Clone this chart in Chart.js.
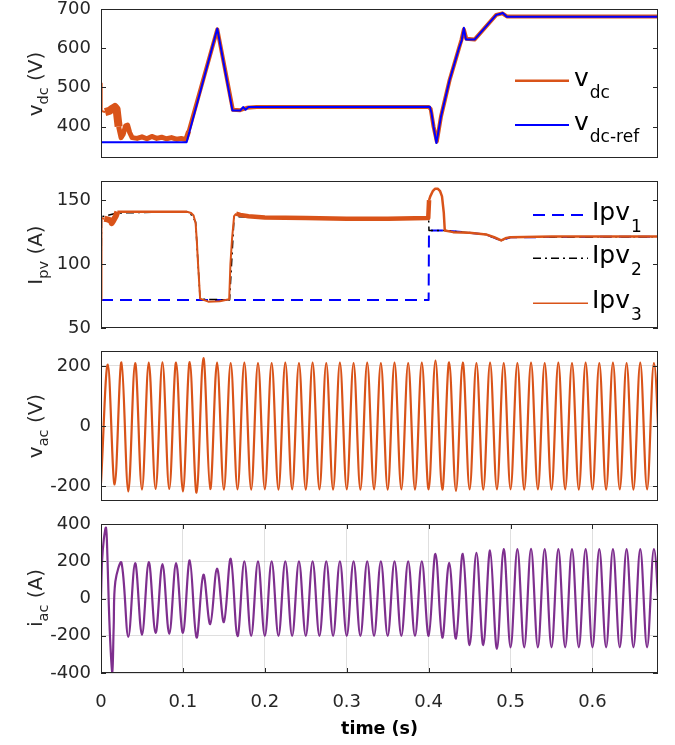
<!DOCTYPE html>
<html lang="en">
<head>
<meta charset="UTF-8" />
<title>DC link, PV currents and AC side response</title>
<script src="https://cdn.jsdelivr.net/npm/chart.js"></script>
<style>
    * { box-sizing: border-box; margin: 0; padding: 0; }
    body {
        width: 675px; height: 745px; position: relative; overflow: hidden;
        background: #fff; font-family: 'DejaVu Sans', sans-serif;
    }
    canvas { position: absolute; left: 0; }
    .ylab {
        position: absolute; white-space: nowrap; color: #262626;
        font-size: 20px; line-height: 1;
        transform: translate(-50%, -50%) rotate(-90deg);
    }
    .ylab sub { font-size: 14.5px; vertical-align: -0.4em; line-height: 0; }
</style>
</head>
<body>
<canvas id="c1" width="675" height="170" style="top:0px"></canvas>
<canvas id="c2" width="675" height="170" style="top:170px"></canvas>
<canvas id="c3" width="675" height="172" style="top:340px"></canvas>
<canvas id="c4" width="675" height="233" style="top:512px"></canvas>

<div class="ylab" style="left:35px; top:84px">v<sub>dc</sub> (V)</div>
<div class="ylab" style="left:35px; top:255px">I<sub>pv</sub> (A)</div>
<div class="ylab" style="left:35px; top:426px">v<sub>ac</sub> (V)</div>
<div class="ylab" style="left:35px; top:598px">i<sub>ac</sub> (A)</div>

<script>
// ---- data ----
const xTicks = [0, 0.1, 0.2, 0.3, 0.4, 0.5, 0.6];
const xTickLabels = ['0', '0.1', '0.2', '0.3', '0.4', '0.5', '0.6'];

// dc link voltage (V)
const vdcT = [0, 0.0008, 0.005, 0.010, 0.014, 0.017, 0.019, 0.0215, 0.0245, 0.027, 0.030, 0.0325,
    0.035, 0.038, 0.044, 0.050, 0.056, 0.062, 0.068, 0.074, 0.080, 0.086, 0.092, 0.098, 0.1035,
    0.107, 0.142, 0.161, 0.170, 0.178, 0.190, 0.400, 0.4025, 0.406, 0.410, 0.415, 0.4256, 0.437,
    0.440, 0.443, 0.446, 0.456, 0.4825, 0.490, 0.4955, 0.680];
const vdc = [510, 440, 437, 440, 446, 450, 445, 400, 372, 380, 402, 404,
    385, 372, 370, 374, 369, 375, 370, 373, 369, 372, 368, 370, 367,
    388, 648, 443, 442, 448, 450, 450, 445, 400, 362, 425, 519, 600,
    621, 648, 624, 622, 685, 689, 681, 681];

const vdcRefT = [0, 0.1045, 0.142, 0.1605, 0.170, 0.1735, 0.1765, 0.180, 0.4015, 0.4035, 0.406,
    0.4095, 0.415, 0.4256, 0.437, 0.4405, 0.443, 0.4455, 0.456, 0.4825, 0.488, 0.4905, 0.4955, 0.680];
const vdcRef = [360, 360, 650, 441, 441, 450, 443, 450, 451, 435, 400,
    358, 425, 519, 600, 621, 652, 622, 622, 685, 688, 690, 680, 680];

// pv currents (A)
const ipv1T = [0, 0.400, 0.4004, 0.4197, 0.470, 0.4886, 0.500, 0.680];
const ipv1 = [72, 72, 126.3, 126.3, 123.2, 118.5, 121, 121.5];

const ipv2T = [0, 0.0006, 0.020, 0.108, 0.1155, 0.121, 0.157, 0.1625, 0.400, 0.4004, 0.4197,
    0.470, 0.4886, 0.500, 0.680];
const ipv2 = [72, 137, 140, 141, 133, 72.5, 72, 137, 135.5, 126.3, 126.3,
    123.2, 118.5, 121, 121.5];

const ipv3T = [0, 0.0006, 0.004, 0.008, 0.012, 0.013, 0.015, 0.018, 0.020, 0.060, 0.105, 0.110,
    0.113, 0.1155, 0.117, 0.1185, 0.121, 0.131, 0.145, 0.1565, 0.158, 0.160, 0.1625, 0.165, 0.170,
    0.180, 0.200, 0.250, 0.300, 0.350, 0.3995, 0.4005, 0.402, 0.405, 0.408, 0.411, 0.414, 0.4163,
    0.4185, 0.4197, 0.430, 0.450, 0.470, 0.480, 0.4886, 0.495, 0.500, 0.550, 0.680];
const ipv3 = [72, 136, 135.5, 135, 134, 132, 134, 137.5, 141, 141, 141, 140,
    138, 132, 118, 100, 73, 70.6, 71, 72.5, 100, 120, 137.5, 139.5, 138.5,
    137.5, 136.5, 136, 135.5, 135.5, 136, 150, 153, 157, 159, 159, 157, 153,
    140, 126.3, 125, 124.5, 123.2, 121, 118.5, 120.5, 121, 121.5, 121.5];

// ac side: successive peaks / troughs, one every half cycle of 60 Hz
const acStep = 1 / 120;
// v_ac (V), extremes from t = 0 (12 per row = 0.1 s)
const vac = [
    -190, 205, -195, 212, -218, 210, -212, 211, -210, 212, -210, 211,
    -218, 213, -222, 226, -210, 211, -212, 210, -211, 211, -212, 210,
    -211, 210, -212, 211, -211, 210, -212, 211, -211, 210, -212, 211,
    -211, 210, -212, 211, -211, 210, -212, 211, -211, 210, -212, 211,
    -211, 218, -212, 212, -216, 211, -211, 210, -212, 211, -211, 210,
    -211, 210, -212, 211, -211, 210, -212, 211, -211, 210, -212, 211,
    -211, 210, -212, 211, -211, 210, -212, 211, -211, 210, -211
];
// i_ac (A): start-up transient, then extremes from t = 3 * acStep
const iacHeadT = [0, 0.0013, 0.0035, 0.0061, 0.0078, 0.0095, 0.0115, 0.0138, 0.0155, 0.0175];
const iacHead = [0, 200, 320, 380, 230, -30, -250, -394, -150, 90];
const iac = [
    192, -206, 190, -195, 195, -185, 185, -190, 190,
    -185, 205, -210, 128, -138, 160, -127, 213, -202, 200, -201, 200,
    -201, 200, -201, 200, -201, 200, -201, 200, -201, 200, -201, 200,
    -201, 200, -201, 200, -201, 200, -201, 200, -201, 200, -201, 200,
    -200, 240, -210, 192, -215, 240, -250, 245, -250, 258, -270, 265,
    -262, 265, -262, 266, -262, 265, -262, 265, -262, 265, -262, 265,
    -262, 265, -262, 265, -262, 265, -262, 265, -262, 265, -262
];

// ---- styling helpers ----
const FONT = "'DejaVu Sans', sans-serif";
const INK = '#262626';
const GRID = 'rgba(38, 38, 38, 0.15)';
const ORANGE = '#D95319';
const BLUE = '#0000FF';
const PURPLE = '#7E2F8E';
const SINE_TENSION = 0.36;   // bezier handle that makes peak-to-peak arcs sine shaped

const pts = (ts, vs) => ts.map((t, i) => ({ x: t, y: vs[i] }));
const extremes = (vs, i0) => vs.map((v, i) => ({ x: (i + i0) * acStep, y: v }));

// thicker stroke where the measured trace is a noisy band
function bandWidth(bands, base) {
    return c => {
        const t = c.p0.parsed.x;
        const b = bands.find(r => t >= r[0] && t < r[1]);
        return b ? b[2] : base;
    };
}

// box + inward ticks like the original axes
const matlabBox = {
    id: 'matlabBox',
    afterDraw(chart, args, opts) {
        const { ctx, chartArea: a, scales: { x, y } } = chart;
        const L = 5;
        ctx.save();
        ctx.strokeStyle = INK;
        ctx.lineWidth = 1;
        ctx.beginPath();
        y.ticks.forEach(t => {
            const py = Math.round(y.getPixelForValue(t.value)) + 0.5;
            ctx.moveTo(a.left, py); ctx.lineTo(a.left + L, py);
            ctx.moveTo(a.right, py); ctx.lineTo(a.right - L, py);
        });
        if (opts.xTicks) {
            x.ticks.forEach(t => {
                const px = Math.round(x.getPixelForValue(t.value)) + 0.5;
                ctx.moveTo(px, a.bottom); ctx.lineTo(px, a.bottom - L);
                ctx.moveTo(px, a.top); ctx.lineTo(px, a.top + L);
            });
        }
        ctx.stroke();
        ctx.strokeRect(a.left + 0.5, a.top + 0.5, a.right - a.left - 1, a.bottom - a.top - 1);
        ctx.restore();
    }
};

// legend with subscripts, no frame
const subLegend = {
    id: 'subLegend',
    afterDraw(chart, args, o) {
        if (!o.rows) return;
        const ctx = chart.ctx;
        o.rows.forEach(r => {
            const d = chart.data.datasets[r.ds];
            ctx.save();
            ctx.strokeStyle = d.borderColor;
            ctx.lineWidth = r.w;
            ctx.setLineDash(d.borderDash || []);
            ctx.beginPath();
            ctx.moveTo(o.x0, r.y);
            ctx.lineTo(o.x1, r.y);
            ctx.stroke();
            ctx.setLineDash([]);
            ctx.fillStyle = '#000';
            ctx.textBaseline = 'alphabetic';
            ctx.font = '25px ' + FONT;
            ctx.fillText(d.label, o.tx, r.y + 5);
            const w = ctx.measureText(d.label).width;
            ctx.font = '17px ' + FONT;
            ctx.fillText(d.sub, o.tx + w + 1, r.y + 17);
            ctx.restore();
        });
    }
};

Chart.register(matlabBox, subLegend);

function makeChart(id, cfg) {
    const x = {
        type: 'linear', min: 0, max: 0.68, display: !!cfg.xAxis,
        afterBuildTicks: s => { s.ticks = xTicks.map(v => ({ value: v })); },
        grid: { display: !!cfg.xGrid, drawTicks: false, color: GRID },
        border: { display: false },
        ticks: {
            padding: 19, color: INK, font: { family: FONT, size: 18 },
            maxRotation: 0, autoSkip: false, callback: (v, i) => xTickLabels[i]
        },
        title: {
            display: !!cfg.xAxis, text: 'time (s)', color: '#000',
            font: { family: FONT, size: 17.5, weight: 'bold' }, padding: { top: 0, bottom: 5 }
        }
    };
    if (cfg.xAxis) {
        x.afterFit = s => { s.height = 72; s.paddingLeft = 0; s.paddingRight = 0; };
    }
    return new Chart(document.getElementById(id), {
        type: 'line',
        data: { datasets: cfg.datasets },
        options: {
            responsive: false,
            animation: false,
            devicePixelRatio: 1,
            events: [],
            layout: { padding: { top: cfg.padTop, bottom: cfg.padBottom, left: 0, right: 17 } },
            elements: {
                point: { radius: 0 },
                line: { borderJoinStyle: 'round', tension: 0 }
            },
            plugins: {
                legend: { display: false },
                tooltip: { enabled: false },
                matlabBox: { xTicks: !!cfg.xAxis },
                subLegend: cfg.legend || {}
            },
            scales: {
                x: x,
                y: {
                    min: cfg.yMin, max: cfg.yMax,
                    afterBuildTicks: s => { s.ticks = cfg.yTicks.map(v => ({ value: v })); },
                    afterFit: s => { s.width = 101; s.paddingTop = 0; s.paddingBottom = 0; },
                    grid: { display: !!cfg.yGrid, drawTicks: false, color: GRID },
                    border: { display: false },
                    ticks: {
                        padding: 10, color: INK, font: { family: FONT, size: 18 },
                        callback: (v, i) => cfg.yTickLabels[i]
                    }
                }
            }
        }
    });
}

// v_dc
makeChart('c1', {
    padTop: 9, padBottom: 12,
    yMin: 320, yMax: 700, yTicks: [400, 500, 600, 700], yTickLabels: ['400', '500', '600', '700'],
    datasets: [
        { label: 'v', sub: 'dc-ref', data: pts(vdcRefT, vdcRef), borderColor: BLUE, borderWidth: 2, order: 0 },
        {
            label: 'v', sub: 'dc', data: pts(vdcT, vdc), borderColor: ORANGE, borderWidth: 4, order: 1,
            segment: { borderWidth: bandWidth([[0, 0.001, 2], [0.001, 0.02, 8], [0.02, 0.105, 5]], 4) }
        }
    ],
    legend: { x0: 515, x1: 569, tx: 574, rows: [{ ds: 1, y: 80.7, w: 2.5 }, { ds: 0, y: 125, w: 2 }] }
});

// I_pv
makeChart('c2', {
    padTop: 11, padBottom: 12,
    yMin: 50, yMax: 165, yTicks: [50, 100, 150], yTickLabels: ['50', '100', '150'],
    datasets: [
        {
            label: 'Ipv', sub: '3', data: pts(ipv3T, ipv3), borderColor: ORANGE, borderWidth: 2.5, order: 0,
            segment: { borderWidth: bandWidth([[0, 0.001, 2], [0.001, 0.02, 6], [0.105, 0.163, 2], [0.163, 0.4, 4.5]], 2.5) }
        },
        { label: 'Ipv', sub: '2', data: pts(ipv2T, ipv2), borderColor: '#000', borderWidth: 1.5, borderDash: [8, 4, 2, 4], order: 1 },
        { label: 'Ipv', sub: '1', data: pts(ipv1T, ipv1), borderColor: BLUE, borderWidth: 2, borderDash: [12, 7], order: 2 }
    ],
    legend: { x0: 533, x1: 588, tx: 592, rows: [{ ds: 2, y: 45, w: 2 }, { ds: 1, y: 88.3, w: 1.5 }, { ds: 0, y: 133.3, w: 1.5 }] }
});

// v_ac
makeChart('c3', {
    padTop: 11, padBottom: 11, yGrid: true,
    yMin: -250, yMax: 250, yTicks: [-200, 0, 200], yTickLabels: ['-200', '0', '200'],
    datasets: [
        { label: 'v', sub: 'ac', data: extremes(vac, 0), borderColor: ORANGE, borderWidth: 2.2, tension: SINE_TENSION }
    ]
});

// i_ac
makeChart('c4', {
    padTop: 12, padBottom: 0, xAxis: true, xGrid: true, yGrid: true,
    yMin: -400, yMax: 400, yTicks: [-400, -200, 0, 200, 400], yTickLabels: ['-400', '-200', '0', '200', '400'],
    datasets: [
        {
            label: 'i', sub: 'ac', data: pts(iacHeadT, iacHead).concat(extremes(iac, 3)),
            borderColor: PURPLE, borderWidth: 2.2, tension: SINE_TENSION
        }
    ]
});
</script>
</body>
</html>
